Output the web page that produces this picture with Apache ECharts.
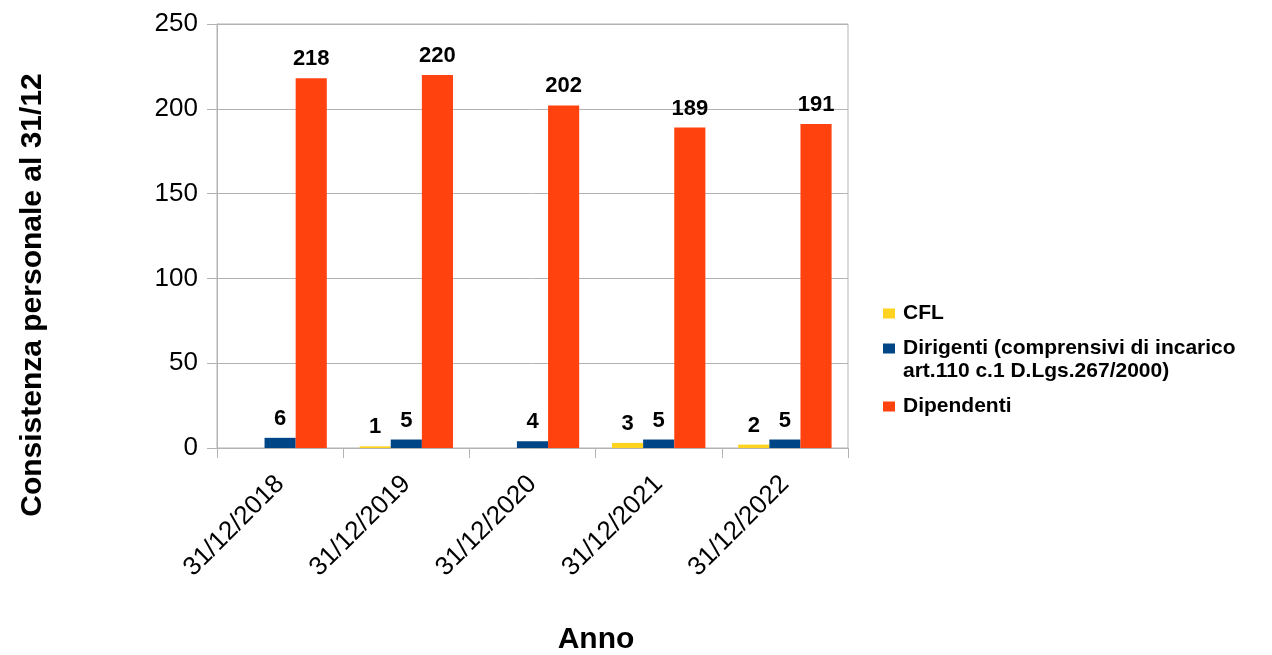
<!DOCTYPE html>
<html>
<head>
<meta charset="utf-8">
<script src="https://cdn.jsdelivr.net/npm/echarts@6/dist/echarts.min.js"></script>
<style>
html,body{margin:0;padding:0;background:#fff;}
#chart{width:1272px;height:655px;}
</style>
</head>
<body>
<div id="chart"></div>
<script>
var categories = ['31/12/2018', '31/12/2019', '31/12/2020', '31/12/2021', '31/12/2022'];
var seriesNames = ['CFL', 'Dirigenti (comprensivi di incarico art.110 c.1 D.Lgs.267/2000)', 'Dipendenti'];
var cflValues = [0, 1, 0, 3, 2];
var dirigentiValues = [6, 5, 4, 5, 5];
var dipendentiValues = [218, 220, 202, 189, 191];
var yTicks = [0, 50, 100, 150, 200, 250];
var yTitle = 'Consistenza personale al 31/12';
var xTitle = 'Anno';

var colors = ['#ffd320', '#004586', '#ff420e'];
var FONT = '"Liberation Sans", Arial, sans-serif';

// legend icons: square centred (single-line items) or aligned to first line (two-line item)
var iconCentered = 'path://M0,0L0.01,0L0.01,0.01Z M0,11.5H12V21.5H0Z M15,33L14.99,33L14.99,32.99Z';
var iconTop = 'path://M0,0H12V10H0Z M15,33L14.99,33L14.99,32.99Z';

var chart = echarts.init(document.getElementById('chart'), null, {renderer: 'canvas'});

function labelCfg() {
  return {
    show: true,
    position: 'top',
    distance: 8,
    color: '#000',
    fontFamily: FONT,
    fontWeight: 'bold',
    fontSize: 22,
    formatter: function (p) { return p.value === 0 ? '' : String(p.value); }
  };
}

var dataSets = [cflValues, dirigentiValues, dipendentiValues];
var series = dataSets.map(function (d, i) {
  return {
    name: seriesNames[i],
    type: 'bar',
    data: d,
    barGap: '0%',
    barCategoryGap: '26%',
    itemStyle: {color: colors[i]},
    label: labelCfg()
  };
});

chart.setOption({
  animation: false,
  color: colors,
  grid: {left: 217, right: 424, top: 24, bottom: 207, show: true, borderColor: '#b3b3b3', borderWidth: 1},
  legend: {
    orient: 'vertical',
    left: 883,
    top: 297,
    padding: 0,
    itemWidth: 15,
    itemHeight: 33,
    itemGap: 7,
    textStyle: {fontFamily: FONT, fontSize: 21, fontWeight: 'bold', color: '#000', lineHeight: 23},
    formatter: function (name) {
      return name.replace(' art.110', '\nart.110');
    },
    data: [
      {name: seriesNames[0], icon: iconCentered},
      {name: seriesNames[1], icon: iconTop},
      {name: seriesNames[2], icon: iconCentered}
    ]
  },
  xAxis: {
    type: 'category',
    data: categories,
    axisLine: {lineStyle: {color: '#b3b3b3'}},
    axisTick: {show: true, length: 10, lineStyle: {color: '#b3b3b3'}},
    axisLabel: {rotate: 45, margin: 32, fontFamily: FONT, fontSize: 26, color: '#000'}
  },
  yAxis: {
    type: 'value',
    min: yTicks[0],
    max: yTicks[yTicks.length - 1],
    interval: 50,
    axisLine: {show: true, lineStyle: {color: '#b3b3b3'}},
    axisTick: {show: true, length: 10, lineStyle: {color: '#b3b3b3'}},
    splitLine: {lineStyle: {color: '#b3b3b3'}},
    axisLabel: {margin: 19, fontFamily: FONT, fontSize: 26, color: '#000'}
  },
  graphic: [
    {
      type: 'text',
      x: 33, y: 295,
      rotation: Math.PI / 2,
      style: {text: yTitle, fontFamily: FONT, fontSize: 30, fontWeight: 'bold', fill: '#000', align: 'center', verticalAlign: 'middle'}
    },
    {
      type: 'text',
      x: 596, y: 640,
      style: {text: xTitle, fontFamily: FONT, fontSize: 30, fontWeight: 'bold', fill: '#000', align: 'center', verticalAlign: 'middle'}
    }
  ],
  series: series
});
</script>
</body>
</html>
